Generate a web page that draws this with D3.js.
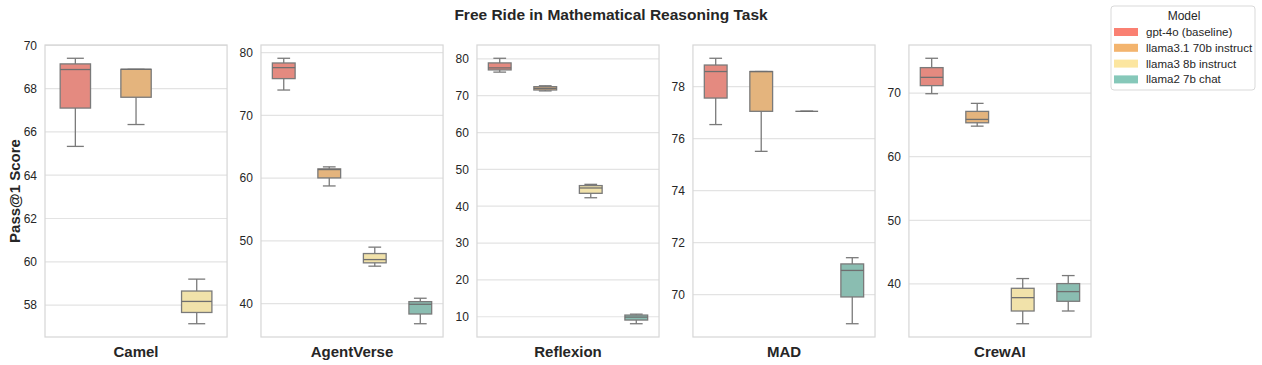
<!DOCTYPE html>
<html>
<head>
<meta charset="utf-8">
<script src="https://cdn.jsdelivr.net/npm/d3@7"></script>
<style>
  body { margin: 0; background: #fff; }
  text { font-family: "Liberation Sans", Arial, sans-serif; }
</style>
</head>
<body>
<div id="chart"></div>
<script>
// frameworks (panels) and models (hue)
var frameworks = ["Camel", "AgentVerse", "Reflexion", "MAD", "CrewAI"];
var models = ["gpt-4o (baseline)", "llama3.1 70b instruct", "llama3 8b instruct", "llama2 7b chat"];
var legendColors = ["#fa8072", "#f3b46e", "#fce6a0", "#86c8b9"];
var boxColors = ["#e48a80", "#e4b47d", "#f1e2aa", "#8abdb1"];

// box stats per model: [whisker low, q1, median, q3, whisker high], null = no run
var gpt4o = [[65.33, 67.1, 68.88, 69.14, 69.4], [74.03, 75.85, 77.6, 78.34, 79.09], [76.4, 77.0, 77.55, 78.9, 80.16], [76.54, 77.56, 78.58, 78.83, 79.09], [69.9, 71.17, 72.47, 74.0, 75.47]];
var llama31_70b = [[66.34, 67.6, 68.89, 68.89, 68.89], [58.75, 60.03, 61.36, 61.47, 61.79], [71.3, 71.55, 72.0, 72.45, 72.7], [75.51, 77.05, 78.58, 78.58, 78.58], [64.8, 65.33, 65.86, 67.12, 68.38]];
var llama3_8b = [[57.14, 57.66, 58.17, 58.65, 59.2], [45.97, 46.5, 47.02, 47.98, 49.0], [42.3, 43.5, 44.95, 45.6, 45.94], [77.05, 77.05, 77.05, 77.05, 77.05], [33.74, 35.74, 37.84, 39.31, 40.84]];
var llama2_7b = [null, [36.8, 38.35, 39.9, 40.32, 40.86], [8.1, 9.1, 9.9, 10.45, 10.7], [68.88, 69.91, 70.93, 71.18, 71.42], [35.74, 37.27, 38.79, 40.05, 41.31]];
var yTicks = [[58, 60, 62, 64, 66, 68, 70], [40, 50, 60, 70, 80], [10, 20, 30, 40, 50, 60, 70, 80], [70, 72, 74, 76, 78], [40, 50, 60, 70]];

var series = [gpt4o, llama31_70b, llama3_8b, llama2_7b];

var width = 1262, height = 365;
var plotTop = 45, plotBottom = 337;

var svg = d3.select("#chart").append("svg")
    .attr("width", width)
    .attr("height", height);

var panelX = d3.scaleBand()
    .domain(frameworks)
    .range([45, 1091])
    .paddingInner(0.157);

svg.append("text")
    .attr("x", 611)
    .attr("y", 20)
    .attr("text-anchor", "middle")
    .attr("font-size", "15.5px")
    .attr("font-weight", "bold")
    .attr("fill", "#262626")
    .text("Free Ride in Mathematical Reasoning Task");

svg.append("text")
    .attr("transform", "translate(20," + (plotTop + plotBottom) / 2 + ") rotate(-90)")
    .attr("text-anchor", "middle")
    .attr("font-size", "15px")
    .attr("font-weight", "bold")
    .attr("fill", "#262626")
    .text("Pass@1 Score");

frameworks.forEach(function (fw, fi) {
    var boxes = [];
    models.forEach(function (m, mi) {
        var s = series[mi][fi];
        if (s) boxes.push({ model: m, idx: mi, s: s });
    });

    var lo = d3.min(boxes, function (d) { return d.s[0]; });
    var hi = d3.max(boxes, function (d) { return d.s[4]; });
    var pad = (hi - lo) * 0.05;
    var y = d3.scaleLinear().domain([lo - pad, hi + pad]).range([plotBottom, plotTop]);

    var bw = panelX.bandwidth();
    var g = svg.append("g").attr("transform", "translate(" + panelX(fw) + ",0)");

    var x = d3.scaleBand()
        .domain(boxes.map(function (d) { return d.model; }))
        .range([0, bw])
        .paddingInner(0.5)
        .paddingOuter(0.25);

    // grid
    g.selectAll(".grid").data(yTicks[fi]).enter().append("line")
        .attr("x1", 0).attr("x2", bw)
        .attr("y1", function (d) { return y(d); })
        .attr("y2", function (d) { return y(d); })
        .attr("stroke", "#e3e3e3")
        .attr("stroke-width", 1.2);

    var axis = g.append("g").call(d3.axisLeft(y).tickValues(yTicks[fi]).tickSize(0).tickPadding(8));
    axis.select(".domain").remove();
    axis.selectAll("text")
        .attr("font-size", "12px")
        .attr("fill", "#262626")
        .style("font-family", "'Liberation Sans', Arial, sans-serif");

    var node = g.selectAll(".box").data(boxes).enter().append("g");

    node.append("line")
        .attr("x1", function (d) { return x(d.model) + x.bandwidth() / 2; })
        .attr("x2", function (d) { return x(d.model) + x.bandwidth() / 2; })
        .attr("y1", function (d) { return y(d.s[0]); })
        .attr("y2", function (d) { return y(d.s[4]); })
        .attr("stroke", "#7a7a7a")
        .attr("stroke-width", 1.3);

    [0, 4].forEach(function (k) {
        node.append("line")
            .attr("x1", function (d) { return x(d.model) + x.bandwidth() * 0.22; })
            .attr("x2", function (d) { return x(d.model) + x.bandwidth() * 0.78; })
            .attr("y1", function (d) { return y(d.s[k]); })
            .attr("y2", function (d) { return y(d.s[k]); })
            .attr("stroke", "#7a7a7a")
            .attr("stroke-width", 1.3);
    });

    node.append("rect")
        .attr("x", function (d) { return x(d.model); })
        .attr("width", x.bandwidth())
        .attr("y", function (d) { return y(d.s[3]); })
        .attr("height", function (d) { return Math.max(0, y(d.s[1]) - y(d.s[3])); })
        .attr("fill", function (d) { return boxColors[d.idx]; })
        .attr("stroke", "#7a7a7a")
        .attr("stroke-width", 1.3);

    node.append("line")
        .attr("x1", function (d) { return x(d.model); })
        .attr("x2", function (d) { return x(d.model) + x.bandwidth(); })
        .attr("y1", function (d) { return y(d.s[2]); })
        .attr("y2", function (d) { return y(d.s[2]); })
        .attr("stroke", "#6f6f6f")
        .attr("stroke-width", 1.3);

    // frame
    g.append("rect")
        .attr("x", 0).attr("y", plotTop)
        .attr("width", bw).attr("height", plotBottom - plotTop)
        .attr("fill", "none")
        .attr("stroke", "#d6d6d6")
        .attr("stroke-width", 1.2);

    svg.append("text")
        .attr("x", panelX(fw) + bw / 2)
        .attr("y", 357)
        .attr("text-anchor", "middle")
        .attr("font-size", "15px")
        .attr("font-weight", "bold")
        .attr("fill", "#262626")
        .text(fw);
});

// legend
var legend = svg.append("g").attr("transform", "translate(1111,6)");
legend.append("rect")
    .attr("width", 144).attr("height", 84)
    .attr("rx", 3)
    .attr("fill", "#fff")
    .attr("stroke", "#d9d9d9");
legend.append("text")
    .attr("x", 73).attr("y", 13.5)
    .attr("text-anchor", "middle")
    .attr("font-size", "12px")
    .attr("fill", "#262626")
    .text("Model");
var item = legend.selectAll(".item").data(models).enter().append("g")
    .attr("transform", function (d, i) { return "translate(0," + (22 + i * 15.8) + ")"; });
item.append("rect")
    .attr("x", 3).attr("width", 24).attr("height", 8)
    .attr("fill", function (d, i) { return legendColors[i]; });
item.append("text")
    .attr("x", 35).attr("y", 8)
    .attr("font-size", "11.5px")
    .attr("fill", "#262626")
    .text(function (d) { return d; });
</script>
</body>
</html>
